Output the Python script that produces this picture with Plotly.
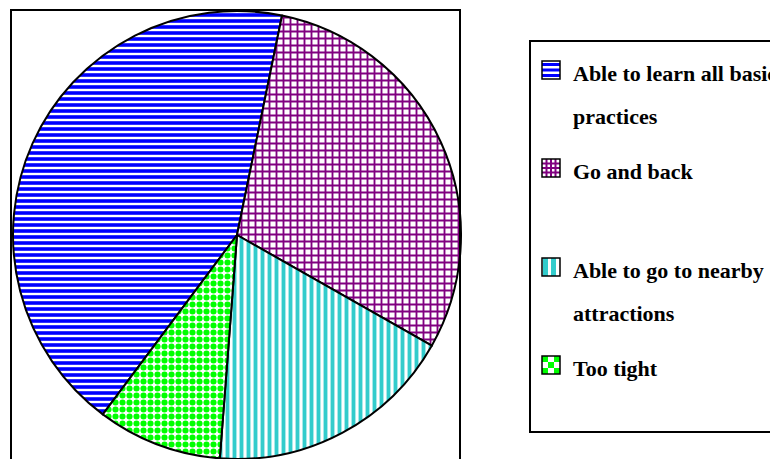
import plotly.graph_objects as go

# Survey answers (share of respondents, %)
labels = ["Able to learn all basic practices", "Go and back",
          "Able to go to nearby attractions", "Too tight"]
values = [43, 30, 18, 9]

# Legend text, one entry per line of each item
legend_lines = [["Able to learn all basic", "practices"],
                ["Go and back"],
                ["Able to go to nearby", "attractions"],
                ["Too tight"]]

fg_colors = ["#0000FF", "#800080", "#33CCCC", "#00FF00"]
pattern_shapes = ["-", "+", "|", "."]
pattern_sizes = [6, 7, 7, 7]
pattern_solidity = [0.6, 0.46, 0.55, 0.6]

W, H = 770, 459


def px(x):
    return x / W


def py(y):
    return 1 - y / H


fig = go.Figure()
fig.add_trace(go.Pie(
    labels=labels,
    values=values,
    sort=False,
    direction="clockwise",
    rotation=216.8,
    textinfo="none",
    hoverinfo="label+percent",
    showlegend=False,
    domain=dict(x=[px(13), px(461)], y=[0, py(11)]),
    marker=dict(
        colors=["white"] * 4,
        line=dict(color="black", width=2),
        pattern=dict(
            shape=pattern_shapes,
            fgcolor=fg_colors,
            bgcolor=["white"] * 4,
            size=pattern_sizes,
            solidity=pattern_solidity,
            fillmode="replace",
        ),
    ),
))

shapes = []
# frame around the pie
shapes.append(dict(type="rect", xref="paper", yref="paper",
                   x0=px(11), x1=px(460), y0=-0.05, y1=py(10),
                   line=dict(color="black", width=2), fillcolor="rgba(0,0,0,0)"))
# legend frame
shapes.append(dict(type="rect", xref="paper", yref="paper",
                   x0=px(530), x1=1.05, y0=py(432), y1=py(41),
                   line=dict(color="black", width=2), fillcolor="rgba(0,0,0,0)"))

annotations = []
first_baselines = [80, 178, 277, 375]
line_gap = 43
sw_x0, sw_size = 542, 18
text_x = 571


def box(x0, y0, x1, y1, color, width=0, line_color=None):
    shapes.append(dict(type="rect", xref="paper", yref="paper",
                       x0=px(x0), x1=px(x1), y0=py(y1), y1=py(y0),
                       fillcolor=color,
                       line=dict(color=line_color or color, width=width)))


for i, lines in enumerate(legend_lines):
    base = first_baselines[i]
    top = base - 19
    x0, x1 = sw_x0, sw_x0 + sw_size
    y0, y1 = top, top + sw_size
    box(x0, y0, x1, y1, "white")
    c = fg_colors[i]
    if i == 0:
        for k in range(3):
            yy = y0 + 2 + k * 5.5
            box(x0, yy, x1, yy + 3, c)
    elif i == 1:
        for k in (1, 2, 3):
            t = x0 + k * sw_size / 4
            box(t - 1, y0, t + 1, y1, c)
            tt = y0 + k * sw_size / 4
            box(x0, tt - 1, x1, tt + 1, c)
    elif i == 2:
        for k in range(2):
            xx = x0 + 1 + k * 8
            box(xx, y0, xx + 5, y1, c)
    else:
        cell = sw_size / 3
        for r in range(3):
            for q in range(3):
                if (r + q) % 2 == 0:
                    box(x0 + q * cell, y0 + r * cell,
                        x0 + (q + 1) * cell, y0 + (r + 1) * cell, c)
    box(x0, y0, x1, y1, "rgba(0,0,0,0)", width=1.5, line_color="black")

    for j, txt in enumerate(lines):
        b = base + j * line_gap
        annotations.append(dict(
            xref="paper", yref="paper", x=px(text_x), y=py(b - 7),
            xanchor="left", yanchor="middle", showarrow=False,
            text="<b>" + txt + "</b>",
            font=dict(family="Liberation Serif", size=22, color="black"),
        ))

fig.update_layout(
    width=W, height=H,
    margin=dict(l=0, r=0, t=0, b=0),
    paper_bgcolor="white", plot_bgcolor="white",
    shapes=shapes, annotations=annotations,
)

fig.write_html("out.html")
